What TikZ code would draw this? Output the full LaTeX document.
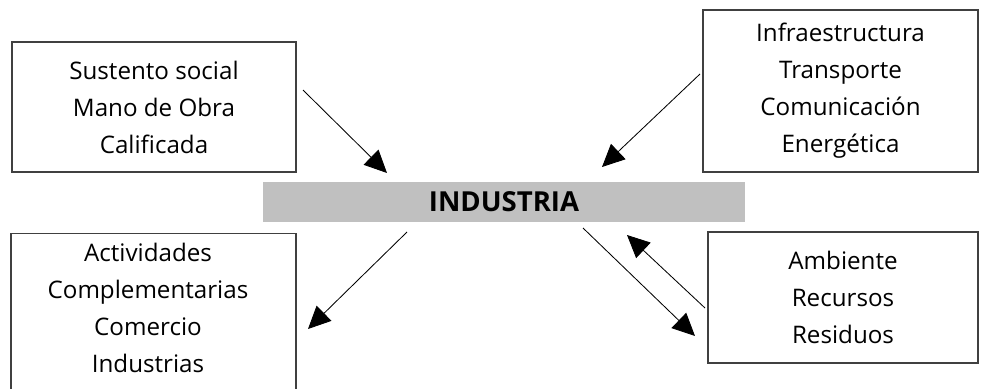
\documentclass[tikz,border=0pt]{standalone}
\usepackage{fontspec}
\setmainfont{Open Sans}
\usepackage{tikz}
\usetikzlibrary{positioning}
\usetikzlibrary{arrows.meta}
\tikzset{>={Triangle[width=15pt,length=16pt]}}
\definecolor{barra}{HTML}{C0C0C0}
\definecolor{borde}{HTML}{404040}
\tikzset{
    caja/.style={draw=borde, line width=0.9pt, align=center, inner sep=0pt,
        font=\fontsize{17.2}{26.3}\selectfont},
    texto/.style={align=center, inner sep=0pt, font=\fontsize{17.2}{26.3}\selectfont},
    flecha/.style={->, line width=0.6pt}
}

\begin{document}
\begin{tikzpicture}
    \useasboundingbox (0,0) rectangle (24.525,-9.725);
    \clip (0,0) rectangle (24.525,-9.725);

    \node[fill=barra, minimum width=12.05cm, minimum height=1cm,
        font=\fontsize{19.6}{22}\selectfont\bfseries] (industria) at (12.6,-5.05) {INDUSTRIA};

    \node[caja, minimum width=7.1cm, minimum height=3.25cm] (social) at (3.85,-2.675)
        {Sustento social\\Mano de Obra\\Calificada};
    \node[caja, minimum width=6.875cm, minimum height=4.05cm] (infra) at (21.0125,-2.275)
        {Infraestructura\\Transporte\\Comunicación\\Energética};
    \node[caja, minimum width=7.125cm, minimum height=4.8cm, anchor=north] (activ) at (3.8375,-5.825) {};
    \node[texto] (activ-txt) at (3.7,-7.7)
        {Actividades\\Complementarias\\Comercio\\Industrias};
    \node[caja, minimum width=6.75cm, minimum height=3.275cm] (ambiente) at (21.075,-7.4375)
        {Ambiente\\Recursos\\Residuos};

    \coordinate (social-out) at (7.575,-2.25);
    \coordinate (ind-in1) at (9.675,-4.325);
    \coordinate (infra-out) at (17.5,-1.85);
    \coordinate (ind-in2) at (15.05,-4.175);
    \coordinate (ind-out1) at (10.175,-5.8);
    \coordinate (activ-in) at (7.7,-8.225);
    \coordinate (ind-out2) at (14.575,-5.7);
    \coordinate (amb-in) at (17.375,-8.4);
    \coordinate (amb-out) at (17.625,-7.7);
    \coordinate (ind-in3) at (15.675,-5.875);

    \draw[flecha] (social-out) -- (ind-in1);
    \draw[flecha] (infra-out) -- (ind-in2);
    \draw[flecha] (ind-out1) -- (activ-in);
    \draw[flecha] (ind-out2) -- (amb-in);
    \draw[flecha] (amb-out) -- (ind-in3);
\end{tikzpicture}
\end{document}
